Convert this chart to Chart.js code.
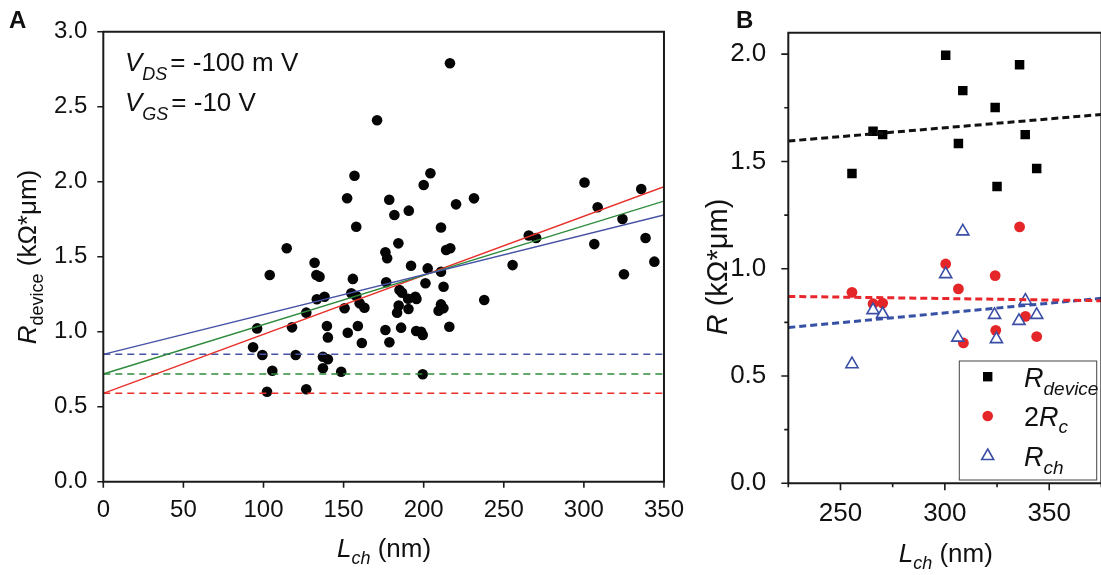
<!DOCTYPE html>
<html><head><meta charset="utf-8">
<script src="https://cdn.jsdelivr.net/npm/chart.js@4.4.0/dist/chart.umd.min.js"></script>
<style>
html,body{margin:0;padding:0;background:#fff;overflow:hidden;width:1101px;height:575px;position:relative;}
#ca{position:absolute;left:0;top:0;}
#cb{position:absolute;left:700px;top:0;}
</style></head><body>
<canvas id="ca" width="690" height="575"></canvas>
<canvas id="cb" width="410" height="575"></canvas>
<script>
// ---------- Panel A data ----------
const lchA = [170.9,156.8,152.2,178.5,157.9,114.5,176.1,177.2,131.9,103.9,133.0,135.0,155.8,216.4,204.2,200.0,181.7,190.7,220.2,231.4,210.8,184.2,214.0,216.6,192.1,202.5,210.8,
  255.5,265.6,270.2,300.4,306.5,308.6,324.1,325.0,335.8,338.5,344.0,
  133.3,138.1,126.7,154.8,157.9,160.0,163.0,150.6,176.6,178.6,176.1,96.0,117.8,139.6,140.2,152.6,158.9,161.4,93.5,99.3,120.1,137.1,140.2,105.5,137.1,148.5,102.2,126.7,199.4,
  201.1,212.4,184.9,186.5,190.3,194.8,195.5,184.4,183.4,190.5,210.8,212.3,209.3,216.0,185.9,195.3,198.4,199.4,237.8];
const rdevA = [2.41,2.04,1.89,1.88,1.70,1.556,1.53,1.49,1.46,1.378,1.378,1.367,1.352,2.79,2.056,1.978,1.778,1.807,1.849,1.889,1.695,1.589,1.545,1.556,1.44,1.422,1.40,
  1.444,1.641,1.625,1.995,1.584,1.830,1.751,1.383,1.951,1.625,1.467,
  1.216,1.233,1.127,1.256,1.238,1.189,1.16,1.156,1.33,0.93,1.011,1.022,1.029,1.038,0.962,0.993,1.038,0.925,0.896,0.845,0.845,0.833,0.816,0.74,0.756,0.733,0.60,0.616,0.716,
  1.323,1.30,1.278,1.26,1.22,1.233,1.218,1.175,1.127,1.151,1.182,1.156,1.14,1.033,1.027,1.005,1.0,0.978,1.211];
const fitXA = [0, 350];
const fitBlueA = [0.849, 1.778];
const fitGreenA = [0.718, 1.871];
const fitRedA = [0.589, 1.967];
const interceptBlueA = [0.849, 0.849];
const interceptGreenA = [0.718, 0.718];
const interceptRedA = [0.589, 0.589];
const ticksAX = [0,50,100,150,200,250,300,350];
const ticksAY = [0,0.5,1.0,1.5,2.0,2.5,3.0];

// ---------- Panel B data ----------
const lchB = [255.5,265.6,270.2,300.4,306.5,308.6,324.1,325.0,335.8,338.5,344.0];
const rDeviceB = [1.444,1.641,1.625,1.995,1.584,1.830,1.751,1.383,1.951,1.625,1.467];
const lchRcB = [255.5,265.6,270.2,300.4,306.5,308.9,324.1,324.4,335.8,338.6,344.0];
const twoRcB = [0.890,0.837,0.840,1.022,0.906,0.654,0.968,0.713,1.195,0.778,0.684];
const lchChB = [255.5,265.6,270.2,300.4,308.6,306.2,323.8,324.7,338.6,335.5,344.0];
const rChB = [0.555,0.807,0.789,0.975,1.174,0.679,0.785,0.672,0.851,0.757,0.785];
const fitXB = [225, 375];
const fitDeviceB = [1.595, 1.719];
const fitRcB = [0.871, 0.851];
const fitChB = [0.726, 0.862];
const ticksBX = [250,300,350];
const minorBX = [225,275,325,375];
const ticksBY = [0,0.5,1.0,1.5,2.0];
const minorBY = [0.25,0.75,1.25,1.75];

const FONT = "'Liberation Sans', Arial, Helvetica, sans-serif";

function pts(xs, ys){ return xs.map((x,i)=>({x:x, y:ys[i]})); }
function lineDs(xs, ys, color, dash, width){
  return {data: pts(xs,ys), showLine:true, borderColor:color, borderWidth:width, borderDash:dash,
          pointRadius:0, pointHoverRadius:0, fill:false, tension:0};
}
function rich(ctx, parts, x, y, align){
  let w = 0; const ms = [];
  for (const p of parts){
    ctx.font = (p.i?'italic ':'') + (p.b?'bold ':'') + p.s + 'px ' + FONT;
    const m = ctx.measureText(p.t).width + (p.gap||0);
    ms.push(m); w += m;
  }
  let cx = align==='center' ? x - w/2 : (align==='right' ? x - w : x);
  ctx.textAlign = 'left'; ctx.textBaseline = 'alphabetic';
  parts.forEach((p,i)=>{
    ctx.font = (p.i?'italic ':'') + (p.b?'bold ':'') + p.s + 'px ' + FONT;
    ctx.fillText(p.t, cx + (p.gap||0), y + (p.dy||0));
    cx += ms[i];
  });
}

const framePlugin = {
  id: 'frameTicks',
  afterDatasetsDraw(chart, args, o){
    const ctx = chart.ctx, a = chart.chartArea;
    const xs = chart.scales.x, ys = chart.scales.y;
    ctx.save();
    ctx.strokeStyle = '#1a1a1a';
    ctx.lineWidth = 2;
    ctx.beginPath();
    ctx.moveTo(a.left, a.top); ctx.lineTo(a.right, a.top); ctx.lineTo(a.right, a.bottom);
    ctx.lineTo(a.left, a.bottom); ctx.closePath();
    ctx.stroke();
    ctx.lineWidth = 1.6;
    ctx.beginPath();
    (o.xMajor||[]).forEach(v=>{ const px = xs.getPixelForValue(v); ctx.moveTo(px, a.bottom); ctx.lineTo(px, a.bottom + o.majorLen); });
    (o.xMinor||[]).forEach(v=>{ const px = xs.getPixelForValue(v); ctx.moveTo(px, a.bottom); ctx.lineTo(px, a.bottom + o.minorLen); });
    (o.yMajor||[]).forEach(v=>{ const py = ys.getPixelForValue(v); ctx.moveTo(a.left, py); ctx.lineTo(a.left - o.majorLen, py); });
    (o.yMinor||[]).forEach(v=>{ const py = ys.getPixelForValue(v); ctx.moveTo(a.left, py); ctx.lineTo(a.left - o.minorLen, py); });
    ctx.stroke();
    ctx.restore();
  }
};

const textA = {
  id: 'textA',
  afterDraw(chart){
    const ctx = chart.ctx;
    ctx.save();
    ctx.fillStyle = '#111';
    rich(ctx, [{t:'A', b:1, s:24}], 9, 28, 'left');
    rich(ctx, [{t:'V', i:1, s:26},{t:'DS', i:1, s:18, dy:9},{t:'= -100 m V', s:26, gap:3}], 125, 71, 'left');
    rich(ctx, [{t:'V', i:1, s:26},{t:'GS', i:1, s:18, dy:9},{t:'= -10 V', s:26, gap:3}], 125, 111, 'left');
    rich(ctx, [{t:'L', i:1, s:26},{t:'ch', i:1, s:18, dy:7},{t:' (nm)', s:26}], 384, 557, 'center');
    ctx.translate(36, 257); ctx.rotate(-Math.PI/2);
    rich(ctx, [{t:'R', i:1, s:26},{t:'device', s:18, dy:7},{t:' (k\u03A9*\u03BCm)', s:26}], 0, 0, 'center');
    ctx.restore();
  }
};

const textB = {
  id: 'textB',
  afterDraw(chart){
    const ctx = chart.ctx;
    ctx.save();
    ctx.fillStyle = '#111';
    rich(ctx, [{t:'B', b:1, s:24}], 36, 28, 'left');
    rich(ctx, [{t:'L', i:1, s:26},{t:'ch', i:1, s:18, dy:7},{t:' (nm)', s:26}], 245.8, 562, 'center');
    ctx.save();
    ctx.translate(27, 267); ctx.rotate(-Math.PI/2);
    rich(ctx, [{t:'R', i:1, s:29},{t:' (k\u03A9*\u03BCm)', s:29}], 0, 0, 'center');
    ctx.restore();
    // legend
    const lx = 259.3, ly = 361, lw = 137.4, lh = 119;
    ctx.fillStyle = '#fff';
    ctx.fillRect(lx, ly, lw, lh);
    ctx.strokeStyle = '#444'; ctx.lineWidth = 1;
    ctx.strokeRect(lx, ly, lw, lh);
    const mx = 287.7;
    ctx.fillStyle = '#000';
    ctx.fillRect(mx - 4.7, 376.7 - 4.7, 9.4, 9.4);
    ctx.fillStyle = '#e42628';
    ctx.beginPath(); ctx.arc(mx, 416, 5.3, 0, Math.PI*2); ctx.fill();
    ctx.strokeStyle = '#3b4ea5'; ctx.lineWidth = 1.6;
    ctx.beginPath(); ctx.moveTo(mx, 449); ctx.lineTo(mx + 6, 459.5); ctx.lineTo(mx - 6, 459.5); ctx.closePath(); ctx.stroke();
    ctx.fillStyle = '#111';
    rich(ctx, [{t:'R', i:1, s:27},{t:'device', i:1, s:19, dy:8}], 324, 387, 'left');
    rich(ctx, [{t:'2', s:27},{t:'R', i:1, s:27},{t:'c', i:1, s:19, dy:7}], 324, 426, 'left');
    rich(ctx, [{t:'R', i:1, s:27},{t:'ch', i:1, s:19, dy:8}], 324, 466, 'left');
    ctx.restore();
  }
};

const tickFont = {family: FONT, size: 24};

new Chart(document.getElementById('ca'), {
  type: 'scatter',
  data: { datasets: [
    lineDs(fitXA, fitBlueA, '#4652a6', [], 1.4),
    lineDs(fitXA, fitGreenA, '#2e8a3c', [], 1.4),
    lineDs(fitXA, fitRedA, '#e8302a', [], 1.4),
    lineDs(fitXA, interceptBlueA, '#4652a6', [7,5], 1.5),
    lineDs(fitXA, interceptGreenA, '#2e8a3c', [7,5], 1.5),
    lineDs(fitXA, interceptRedA, '#e8302a', [7,5], 1.5),
    {data: pts(lchA, rdevA), showLine:false, pointRadius:5.3, pointHoverRadius:5.3,
     pointBackgroundColor:'#050505', pointBorderWidth:0, pointStyle:'circle'}
  ]},
  options: {
    responsive:false, animation:false, devicePixelRatio:1, events:[],
    layout:{padding:{left:0, top:31.7, right:25, bottom:0}},
    plugins:{legend:{display:false}, tooltip:{enabled:false},
      frameTicks:{xMajor:ticksAX, yMajor:ticksAY, majorLen:6, minorLen:4}},
    scales:{
      x:{type:'linear', min:0, max:350, grid:{display:false}, border:{display:false},
        afterBuildTicks: s => { s.ticks = ticksAX.map(v=>({value:v})); },
        afterFit: s => { s.height = 93.3; },
        ticks:{font:tickFont, color:'#111', padding:6, maxRotation:0, autoSkip:false}},
      y:{type:'linear', min:0, max:3, grid:{display:false}, border:{display:false},
        afterBuildTicks: s => { s.ticks = ticksAY.map(v=>({value:v})); },
        afterFit: s => { s.width = 103.3; },
        ticks:{font:tickFont, color:'#111', padding:8, autoSkip:false, callback: v => Number(v).toFixed(1)}}
    }
  },
  plugins:[framePlugin, textA]
});

new Chart(document.getElementById('cb'), {
  type: 'scatter',
  data: { datasets: [
    lineDs(fitXB, fitDeviceB, '#111', [7,4], 3),
    lineDs(fitXB, fitRcB, '#e8262b', [7,4], 3),
    lineDs(fitXB, fitChB, '#3550a5', [7,4], 3),
    {data: pts(lchChB, rChB), showLine:false, pointStyle:'triangle', pointRadius:7, pointHoverRadius:7,
     pointBackgroundColor:'#fff', pointBorderColor:'#3b4ea5', pointBorderWidth:1.6},
    {data: pts(lchRcB, twoRcB), showLine:false, pointStyle:'circle', pointRadius:5.4, pointHoverRadius:5.4,
     pointBackgroundColor:'#e42628', pointBorderWidth:0},
    {data: pts(lchB, rDeviceB), showLine:false, pointStyle:'rect', pointRadius:6.7, pointHoverRadius:6.7,
     pointBackgroundColor:'#000', pointBorderWidth:0}
  ]},
  options: {
    responsive:false, animation:false, devicePixelRatio:1, events:[],
    layout:{padding:{left:0, top:32.7, right:8, bottom:0}},
    plugins:{legend:{display:false}, tooltip:{enabled:false},
      frameTicks:{xMajor:ticksBX, xMinor:minorBX, yMajor:ticksBY, yMinor:minorBY, majorLen:7, minorLen:4}},
    scales:{
      x:{type:'linear', min:225, max:375, grid:{display:false}, border:{display:false},
        afterBuildTicks: s => { s.ticks = ticksBX.map(v=>({value:v})); },
        afterFit: s => { s.height = 91.7; },
        ticks:{font:{family:FONT, size:26}, color:'#111', padding:7, maxRotation:0, autoSkip:false}},
      y:{type:'linear', min:0, max:2.1, grid:{display:false}, border:{display:false},
        afterBuildTicks: s => { s.ticks = ticksBY.map(v=>({value:v})); },
        afterFit: s => { s.width = 88.3; },
        ticks:{font:{family:FONT, size:26}, color:'#111', padding:14, autoSkip:false, callback: v => Number(v).toFixed(1)}}
    }
  },
  plugins:[framePlugin, textB]
});
</script>
</body></html>
